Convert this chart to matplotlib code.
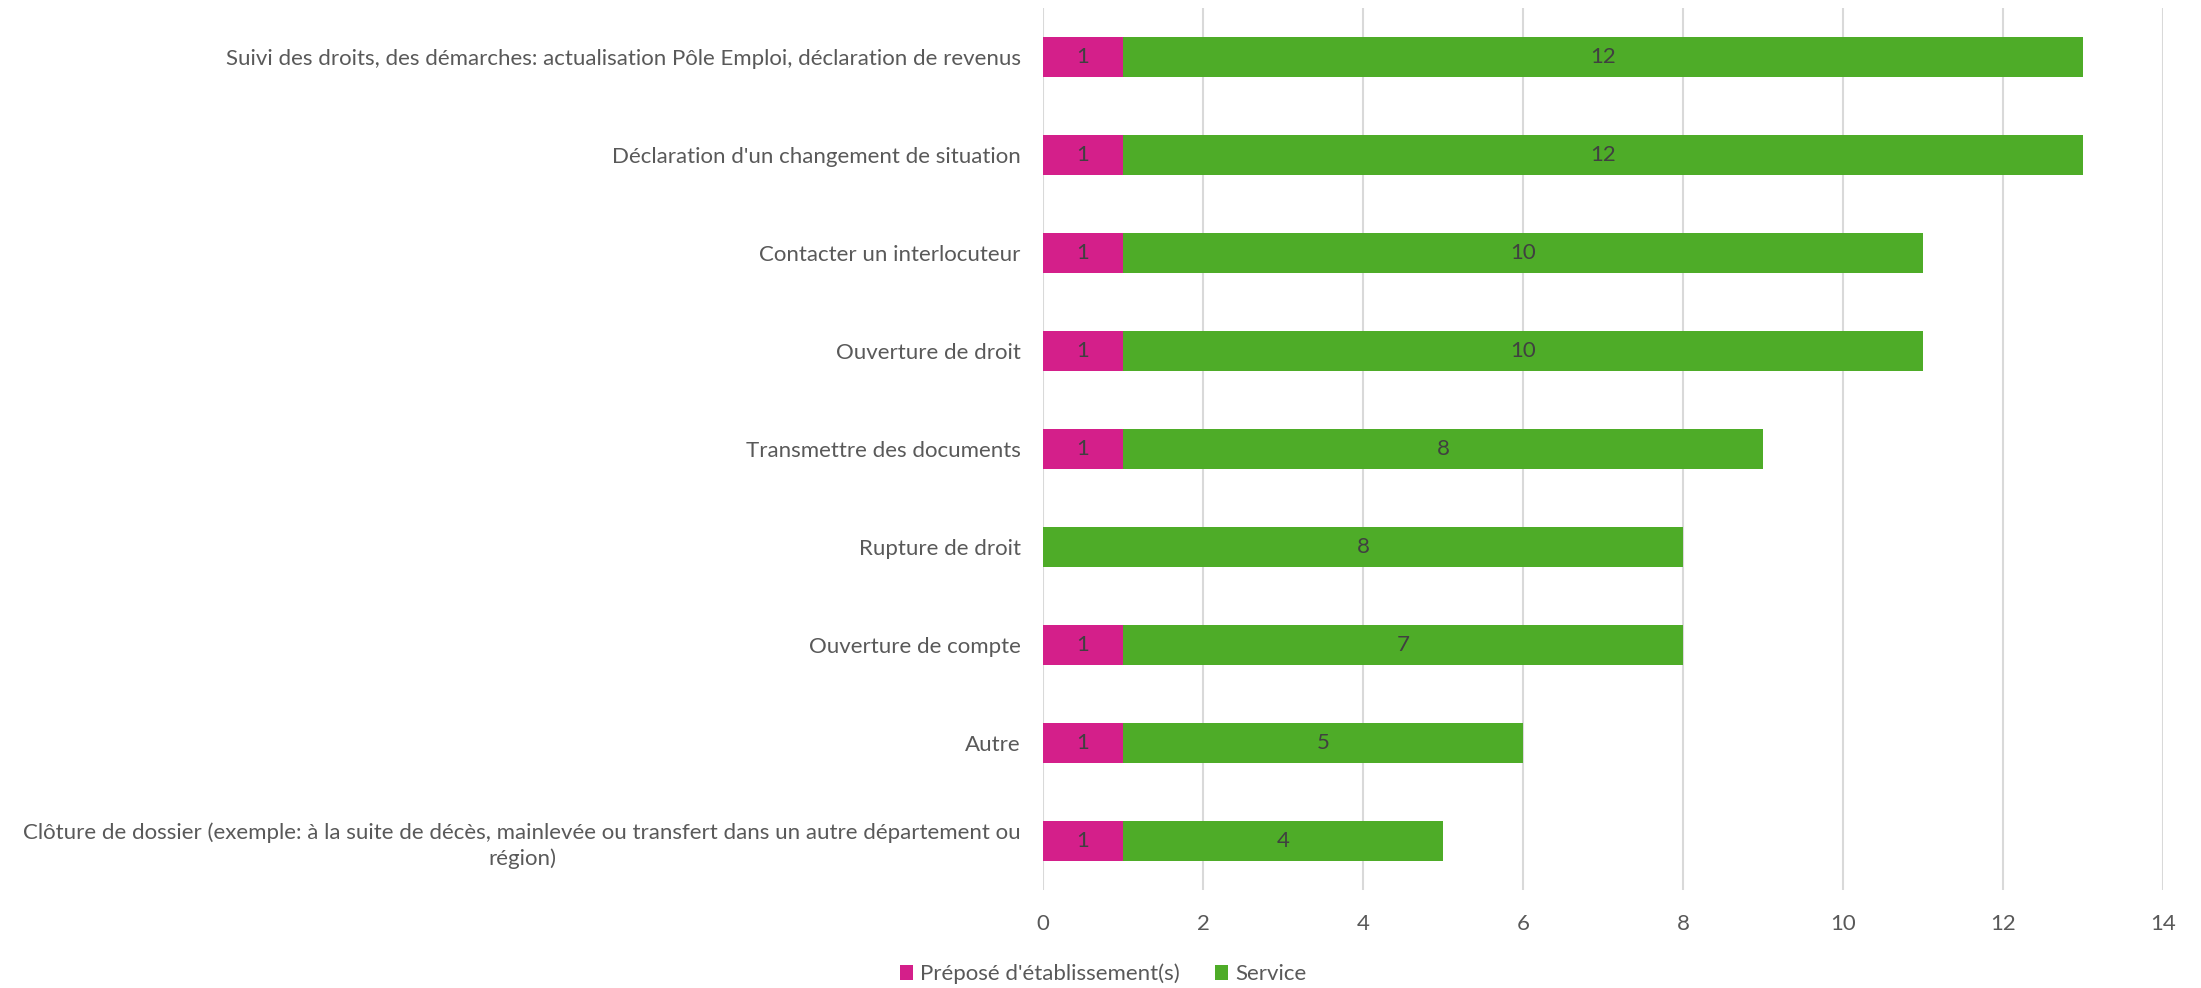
import matplotlib
matplotlib.use("Agg")
import matplotlib.pyplot as plt
from matplotlib.patches import Patch

categories = [
    "Suivi des droits, des démarches: actualisation Pôle Emploi, déclaration de revenus",
    "Déclaration d'un changement de situation",
    "Contacter un interlocuteur",
    "Ouverture de droit",
    "Transmettre des documents",
    "Rupture de droit",
    "Ouverture de compte",
    "Autre",
    "Clôture de dossier (exemple: à la suite de décès, mainlevée ou transfert dans un autre département ou\nrégion)",
]
prepose = [1, 1, 1, 1, 1, 0, 1, 1, 1]
service = [12, 12, 10, 10, 8, 8, 7, 5, 4]
series_names = ["Préposé d'établissement(s)", "Service"]
xticks = [0, 2, 4, 6, 8, 10, 12, 14]

PINK = "#D41F8A"
GREEN = "#4EAC28"
TXT = "#595959"
LBL = "#404040"

plt.rcParams['font.family'] = ['Lato', 'DejaVu Sans']
FS = 16

fig = plt.figure(figsize=(22.01, 9.88), dpi=100)
ax = fig.add_axes([1043/2201, 1 - 890/988, 1120/2201, 882/988])

y = list(range(len(categories)))
h = 0.4
b1 = ax.barh(y, prepose, height=h, color=PINK, linewidth=0)
b2 = ax.barh(y, service, left=prepose, height=h, color=GREEN, linewidth=0)

for i in range(len(categories)):
    if prepose[i] > 0:
        ax.text(prepose[i] / 2, i, str(prepose[i]), ha='center', va='center',
                fontsize=FS, color=LBL)
    if service[i] > 0:
        ax.text(prepose[i] + service[i] / 2, i, str(service[i]), ha='center', va='center',
                fontsize=FS, color=LBL)

ax.set_ylim(len(categories) - 0.5, -0.5)
ax.set_xlim(0, 14)
ax.set_xticks(xticks)
ax.set_xticklabels([str(t) for t in xticks])
ax.set_yticks(y)
ax.set_yticklabels(categories, multialignment='center', linespacing=1.35)
ax.tick_params(axis='both', length=0, labelsize=FS, labelcolor=TXT)
ax.tick_params(axis='y', pad=16)
ax.tick_params(axis='x', pad=17)
for s in ax.spines.values():
    s.set_visible(False)
ax.xaxis.grid(True, color="#D9D9D9", linewidth=1.5)
ax.set_axisbelow(True)

handles = [Patch(facecolor=PINK, label=series_names[0]),
           Patch(facecolor=GREEN, label=series_names[1])]
leg = fig.legend(handles=handles, loc='center', bbox_to_anchor=(1103/2201, 1 - 974/988),
                 ncol=2, frameon=False, fontsize=FS, handlelength=0.6, handleheight=0.6,
                 handletextpad=0.3, columnspacing=1.6)
for t in leg.get_texts():
    t.set_color(TXT)

fig.savefig("out.png", dpi=100)
